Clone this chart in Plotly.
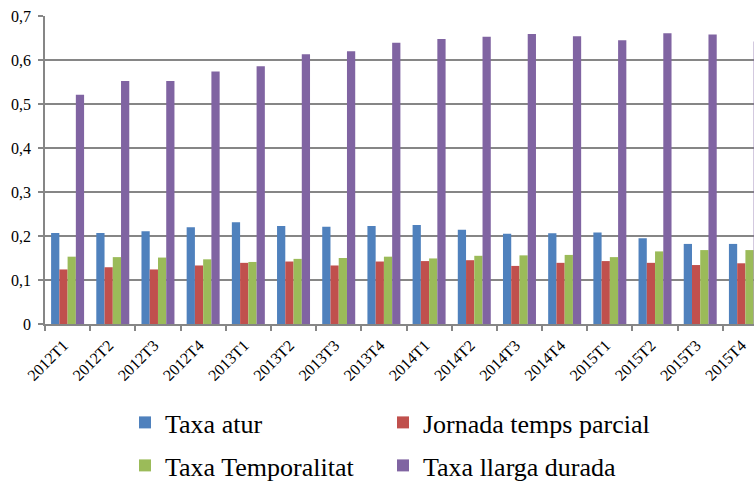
import plotly.graph_objects as go

categories = ["2012T1", "2012T2", "2012T3", "2012T4",
              "2013T1", "2013T2", "2013T3", "2013T4",
              "2014T1", "2014T2", "2014T3", "2014T4",
              "2015T1", "2015T2", "2015T3", "2015T4"]

taxa_atur = [0.207, 0.207, 0.211, 0.220, 0.231, 0.223, 0.221, 0.223,
             0.225, 0.214, 0.205, 0.206, 0.208, 0.195, 0.182, 0.182]
jornada_parcial = [0.124, 0.129, 0.124, 0.133, 0.139, 0.142, 0.133, 0.142,
                   0.143, 0.145, 0.132, 0.139, 0.143, 0.139, 0.134, 0.138]
taxa_temporalitat = [0.153, 0.152, 0.151, 0.147, 0.141, 0.148, 0.150, 0.153,
                     0.149, 0.155, 0.156, 0.157, 0.152, 0.165, 0.168, 0.168]
taxa_llarga = [0.521, 0.552, 0.552, 0.574, 0.586, 0.613, 0.620, 0.639,
               0.648, 0.653, 0.659, 0.654, 0.645, 0.661, 0.658, 0.642]

series_names = ["Taxa atur", "Jornada temps parcial", "Taxa Temporalitat", "Taxa llarga durada"]
series_values = [taxa_atur, jornada_parcial, taxa_temporalitat, taxa_llarga]
colors = ["#4F81BD", "#C0504D", "#9BBB59", "#8064A2"]
legend_ids = ["legend", "legend2", "legend3", "legend4"]

y_tickvals = [0, 0.1, 0.2, 0.3, 0.4, 0.5, 0.6, 0.7]
y_ticktext = ["0", "0,1", "0,2", "0,3", "0,4", "0,5", "0,6", "0,7"]

FONT = "Liberation Serif"
W, H = 754, 491

fig = go.Figure()
for name, vals, col, lg in zip(series_names, series_values, colors, legend_ids):
    fig.add_trace(go.Bar(
        x=categories, y=vals, name=name, legend=lg,
        marker=dict(color=col, line=dict(width=0)),
    ))

legend_common = dict(
    orientation="v", xref="container", yref="container",
    xanchor="left", yanchor="middle",
    font=dict(family=FONT, size=26, color="#000000"),
    bgcolor="rgba(0,0,0,0)", borderwidth=0,
    itemclick=False, itemdoubleclick=False,
)

col1_x, col2_x = 125, 383
row1_y, row2_y = 422.5, 465.5

fig.update_layout(
    width=W, height=H,
    margin=dict(l=45, r=0, t=16, b=167, autoexpand=False),
    paper_bgcolor="white", plot_bgcolor="white",
    barmode="group", bargap=0.27, bargroupgap=0,
    font=dict(family=FONT, color="#000000"),
    showlegend=True,
    legend=dict(x=col1_x / W, y=(H - row1_y) / H, **legend_common),
    legend2=dict(x=col2_x / W, y=(H - row1_y) / H, **legend_common),
    legend3=dict(x=col1_x / W, y=(H - row2_y) / H, **legend_common),
    legend4=dict(x=col2_x / W, y=(H - row2_y) / H, **legend_common),
    xaxis=dict(
        type="category", range=[-0.5, 15.19], automargin=False,
        tickson="boundaries", ticks="outside", ticklen=5, tickwidth=1.5,
        tickcolor="#868686", showline=True, linecolor="#868686", linewidth=1.5,
        showgrid=False, tickangle=-45, ticklabelshift=-4, ticklabelstandoff=4,
        tickfont=dict(family=FONT, size=16, color="#000000"),
    ),
    yaxis=dict(
        range=[0, 0.7], tickvals=y_tickvals, ticktext=y_ticktext, automargin=False,
        ticks="outside", ticklen=5, tickwidth=1.5, tickcolor="#868686",
        showline=True, linecolor="#868686", linewidth=1.5,
        showgrid=True, gridcolor="#868686", gridwidth=1.5,
        zeroline=False, ticklabelstandoff=4,
        tickfont=dict(family=FONT, size=16, color="#000000"),
    ),
)

fig.write_html(
    "out.html",
    config={"displayModeBar": False},
    post_script="document.body.style.margin='0';document.body.style.overflow='hidden';",
)
